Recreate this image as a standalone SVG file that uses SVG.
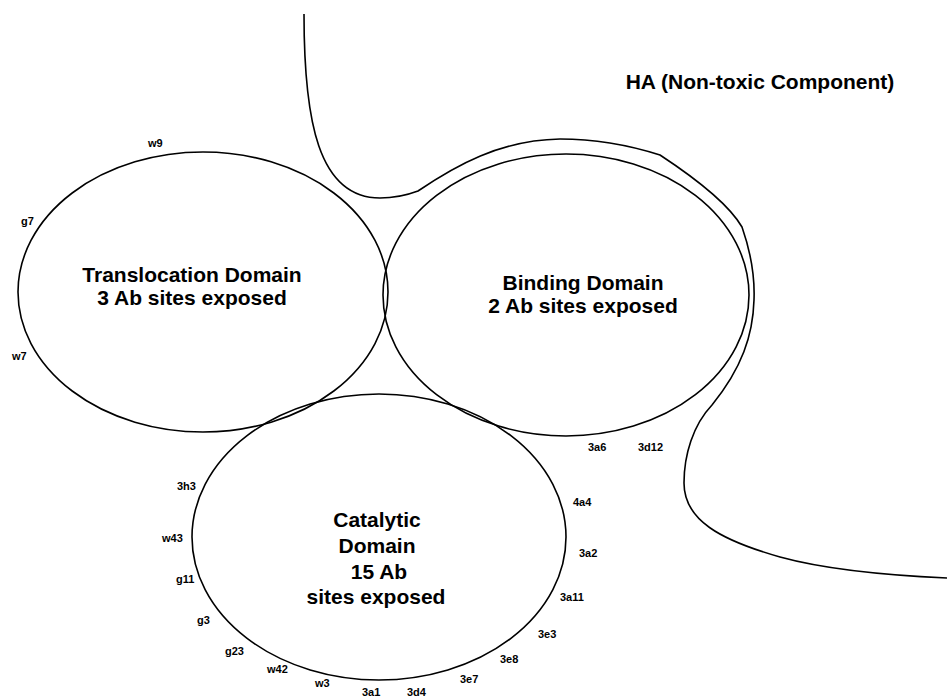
<svg xmlns="http://www.w3.org/2000/svg" width="947" height="697" viewBox="0 0 947 697">
<style>
.shape{fill:none;stroke:#000;stroke-width:1.6}
.big{font-family:"Liberation Sans",Arial,sans-serif;font-size:21px;font-weight:bold;fill:#000;text-anchor:middle}
.lbl{font-family:"Liberation Sans",Arial,sans-serif;font-size:11px;font-weight:bold;fill:#000}
</style>
<rect width="947" height="697" fill="#fff"/>
<g id="ha">
<path class="shape" d="M304,14 C304,120 318,198 380,198 C398,198 410,194 418,191 C455,166 500,140 560,139 C605,139 638,148 660,155 C695,178 728,203 742,227 C750,250 755,275 754,300 C753,335 742,368 712,405 C693,425 684,455 684,483 C684,520 720,540 780,557 C820,568 880,575 947,578"/>
<text class="big" x="760" y="89">HA (Non-toxic Component)</text>
</g>
<g id="translocation">
<ellipse class="shape" cx="203" cy="292" rx="185" ry="140"/>
<text class="big" x="192" y="282">Translocation Domain</text>
<text class="big" x="192" y="305">3 Ab sites exposed</text>
<text class="lbl" x="148" y="147">w9</text>
<text class="lbl" x="21" y="225">g7</text>
<text class="lbl" x="12" y="360">w7</text>
</g>
<g id="binding">
<ellipse class="shape" cx="566" cy="295" rx="183" ry="141"/>
<text class="big" x="583" y="290">Binding Domain</text>
<text class="big" x="583" y="313">2 Ab sites exposed</text>
<text class="lbl" x="588" y="451">3a6</text>
<text class="lbl" x="638" y="451">3d12</text>
</g>
<g id="catalytic">
<ellipse class="shape" cx="379" cy="537" rx="187" ry="143"/>
<text class="big" x="377" y="527">Catalytic</text>
<text class="big" x="377" y="553">Domain</text>
<text class="big" x="379" y="579">15 Ab</text>
<text class="big" x="376" y="604">sites exposed</text>
<text class="lbl" x="177" y="490">3h3</text>
<text class="lbl" x="162" y="542">w43</text>
<text class="lbl" x="176" y="583">g11</text>
<text class="lbl" x="197" y="624">g3</text>
<text class="lbl" x="225" y="655">g23</text>
<text class="lbl" x="267" y="673">w42</text>
<text class="lbl" x="315" y="687">w3</text>
<text class="lbl" x="362" y="696">3a1</text>
<text class="lbl" x="407" y="696">3d4</text>
<text class="lbl" x="460" y="683">3e7</text>
<text class="lbl" x="500" y="663">3e8</text>
<text class="lbl" x="538" y="638">3e3</text>
<text class="lbl" x="560" y="601">3a11</text>
<text class="lbl" x="579" y="557">3a2</text>
<text class="lbl" x="573" y="506">4a4</text>
</g>
<g id="connectors"></g>
</svg>
